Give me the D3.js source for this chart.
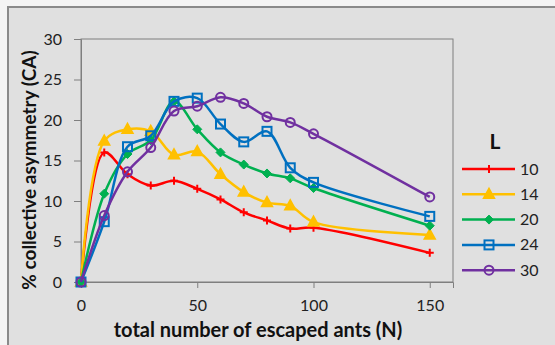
<!DOCTYPE html>
<html>
<head>
<meta charset="utf-8">
<script src="https://cdn.jsdelivr.net/npm/d3@7"></script>
<style>
    body { margin: 0; background: #f4f4f4; }
    svg { display: block; }
</style>
</head>
<body>
<svg id="chart"></svg>
<script>
// escaped ants (x) and collective asymmetry per arena size L
const escaped = [0, 10, 20, 30, 40, 50, 60, 70, 80, 90, 100, 150];
const series_names = ['10', '14', '20', '24', '30'];
const ca_10 = [0, 16.0, 13.3, 11.9, 12.5, 11.5, 10.2, 8.6, 7.6, 6.6, 6.7, 3.6];
const ca_14 = [0, 17.4, 18.85, 18.6, 15.7, 16.1, 13.3, 11.1, 9.8, 9.4, 7.4, 5.8];
const ca_20 = [0, 10.9, 15.8, 17.5, 22.3, 18.85, 16.0, 14.5, 13.4, 12.8, 11.6, 6.95];
const ca_24 = [0, 7.45, 16.7, 18.05, 22.3, 22.7, 19.5, 17.3, 18.6, 14.1, 12.3, 8.1];
const ca_30 = [0, 8.2, 13.6, 16.6, 21.1, 21.7, 22.8, 22.05, 20.4, 19.7, 18.3, 10.5];
const x_ticks = [0, 50, 100, 150];
const y_ticks = [0, 5, 10, 15, 20, 25, 30];

class Chart {
    constructor (selector) {
        this.w = 555;
        this.h = 345;
        this.plot = { x1: 81, y1: 39, x2: 453, y2: 282 };
        this.font = 'Lato, "Open Sans", sans-serif';

        this.svg = d3.select(selector)
            .attr('width', this.w)
            .attr('height', this.h);

        this.x = d3.scaleLinear().domain([0, 160]).range([this.plot.x1, this.plot.x2]);
        this.y = d3.scaleLinear().domain([0, 30]).range([this.plot.y2, this.plot.y1]);
    }
    makeSeries () {
        let colors = ['#ff0000', '#ffc000', '#00b050', '#0070c0', '#7030a0'];
        let markers = ['plus', 'triangle', 'diamond', 'square', 'circle'];
        let values = [ca_10, ca_14, ca_20, ca_24, ca_30];

        return series_names.map((name, i) => {
            return {
                name: name,
                color: colors[i],
                marker: markers[i],
                points: escaped.map((n, j) => ({ n: n, v: values[i][j] })),
            };
        });
    }
    drawFrame () {
        this.svg.append('rect')
            .attr('x', 8).attr('y', 7)
            .attr('width', this.w).attr('height', this.h)
            .attr('fill', '#e0e0e0')
            .attr('stroke', '#8a8a8a')
            .attr('stroke-width', 2);

        let p = this.plot;
        this.svg.append('rect')
            .attr('x', p.x1).attr('y', p.y1)
            .attr('width', p.x2 - p.x1).attr('height', p.y2 - p.y1)
            .attr('fill', 'none')
            .attr('stroke', '#7f7f7f')
            .attr('stroke-width', 1);
    }
    drawAxes () {
        let p = this.plot;

        let ax = this.svg.append('g')
            .attr('transform', 'translate(0,' + p.y2 + ')')
            .call(d3.axisBottom(this.x).tickValues(x_ticks).tickSize(6).tickPadding(12));

        let ay = this.svg.append('g')
            .attr('transform', 'translate(' + p.x1 + ',0)')
            .call(d3.axisLeft(this.y).tickValues(y_ticks).tickSize(7).tickPadding(12));

        for (let g of [ax, ay]) {
            g.select('.domain').attr('stroke', '#7f7f7f');
            g.selectAll('.tick line').attr('stroke', '#7f7f7f');
            g.selectAll('.tick text')
                .attr('fill', '#222')
                .style('font-family', this.font)
                .style('font-size', '16px');
        }

        this.svg.append('text')
            .attr('x', 258).attr('y', 337)
            .attr('text-anchor', 'middle')
            .style('font-family', this.font)
            .style('font-size', '20px')
            .style('font-weight', 'bold')
            .attr('fill', '#111')
            .text('total number of escaped ants (N)');

        this.svg.append('text')
            .attr('transform', 'translate(36,170) rotate(-90)')
            .attr('text-anchor', 'middle')
            .style('font-family', this.font)
            .style('font-size', '19px')
            .style('font-weight', 'bold')
            .attr('fill', '#111')
            .text('% collective asymmetry (CA)');
    }
    drawMarker (g, kind, color) {
        if (kind === 'plus') {
            g.append('path').attr('d', 'M-4,0H4M0,-4V4')
                .attr('stroke', color).attr('stroke-width', 2);
        } else if (kind === 'triangle') {
            g.append('path').attr('d', 'M0,-6L5.5,4L-5.5,4Z')
                .attr('fill', color).attr('stroke', color).attr('stroke-width', 1.5);
        } else if (kind === 'diamond') {
            g.append('path').attr('d', 'M0,-4.5L4.5,0L0,4.5L-4.5,0Z')
                .attr('fill', color).attr('stroke', color).attr('stroke-width', 1);
        } else if (kind === 'square') {
            g.append('rect').attr('x', -4.5).attr('y', -4.5)
                .attr('width', 9).attr('height', 9)
                .attr('fill', 'none').attr('stroke', color).attr('stroke-width', 2);
        } else {
            g.append('circle').attr('r', 4.5)
                .attr('fill', 'none').attr('stroke', color).attr('stroke-width', 2);
        }
    }
    drawSeries (series) {
        let line = d3.line()
            .x((d) => this.x(d.n))
            .y((d) => this.y(d.v))
            .curve(d3.curveCatmullRom.alpha(0.5));

        for (let s of series) {
            let g = this.svg.append('g').attr('class', 'series');

            g.append('path')
                .datum(s.points)
                .attr('d', line)
                .attr('fill', 'none')
                .attr('stroke', s.color)
                .attr('stroke-width', 2.5);

            g.selectAll('g.pt')
                .data(s.points)
                .enter()
                .append('g')
                .attr('class', 'pt')
                .attr('transform', (d) => 'translate(' + this.x(d.n) + ',' + this.y(d.v) + ')')
                .each((d, i, nodes) => this.drawMarker(d3.select(nodes[i]), s.marker, s.color));
        }
    }
    drawLegend (series) {
        this.svg.append('text')
            .attr('x', 495).attr('y', 149)
            .attr('text-anchor', 'middle')
            .style('font-family', this.font)
            .style('font-size', '21px')
            .style('font-weight', 'bold')
            .attr('fill', '#111')
            .text('L');

        let items = this.svg.selectAll('g.legend')
            .data(series)
            .enter()
            .append('g')
            .attr('class', 'legend')
            .attr('transform', (d, i) => 'translate(462,' + (169 + i * 25.3) + ')');

        items.append('line')
            .attr('x1', 0).attr('x2', 53)
            .attr('stroke', (d) => d.color)
            .attr('stroke-width', 2.5);

        items.each((d, i, nodes) => {
            let m = d3.select(nodes[i]).append('g').attr('transform', 'translate(27,0)');
            this.drawMarker(m, d.marker, d.color);
        });

        items.append('text')
            .attr('x', 58).attr('y', 5.5)
            .style('font-family', this.font)
            .style('font-size', '16px')
            .attr('fill', '#222')
            .text((d) => d.name);
    }
    draw () {
        let series = this.makeSeries();

        this.drawFrame();
        this.drawAxes();
        this.drawSeries(series);
        this.drawLegend(series);
    }
}

new Chart('#chart').draw();
</script>
</body>
</html>
